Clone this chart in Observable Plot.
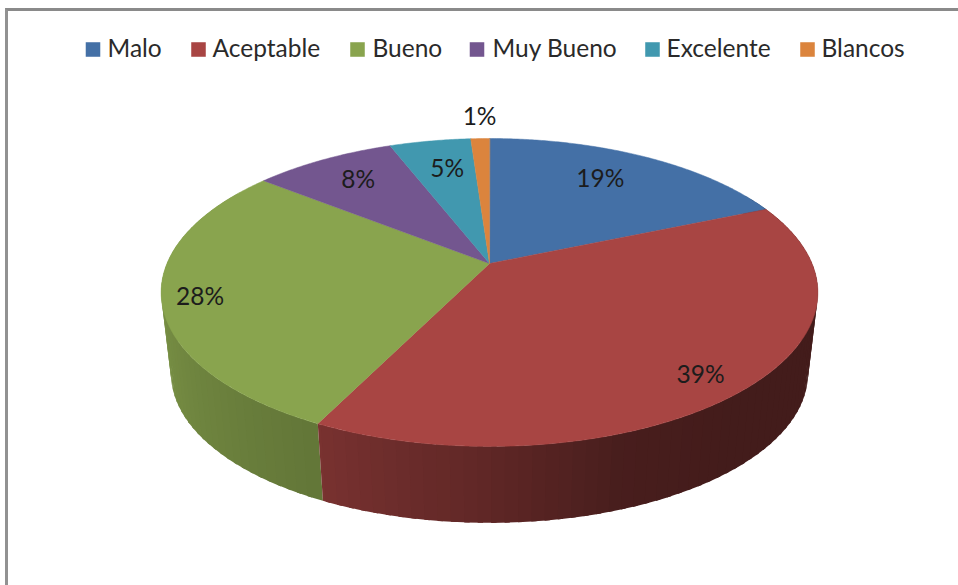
<!DOCTYPE html>
<html><head><meta charset="utf-8">
<script src="https://cdn.jsdelivr.net/npm/d3@7"></script>
<script src="https://cdn.jsdelivr.net/npm/@observablehq/plot@0.6"></script>
<style>
html,body{margin:0;padding:0;background:#fff;overflow:hidden}
#frame{position:absolute;left:5px;top:8px;width:953px;height:577px;box-sizing:border-box;border-left:3px solid #929292;border-top:3px solid #8a8a8a;pointer-events:none}
</style></head><body>
<div id="pie"></div><div id="frame"></div>
<script>
const categories = ["Malo","Aceptable","Bueno","Muy Bueno","Excelente","Blancos"];
const shares = [18.6,38.7,28.4,8.4,4.8,1.1];
const labels = ["19%","39%","28%","8%","5%","1%"];
const colors = ["#4470A6","#A84543","#89A44E","#73568F","#4198AF","#DB843D"];
// label placement: position along the slice and radial distance
const labelAlong = [.467,.517,.484,.51,.55,.55];
const labelRadius = [.741,.874,.888,.773,.733,1.215];
// legend layout
const legendSwatch = [92.5,198,357,476.5,652,807];
const legendText = [107,212,372,492,666,821];
const legendY = 49;

// perspective pie model
const cx=489, cy=263, A=322.5, B=148.5, k=.188, depthScale=.97, depthShift=82;
const rad=d=>d*Math.PI/180;
function upper(a,r=1){const w=1+k*r*Math.cos(rad(a));return {x:cx+A*r*Math.sin(rad(a))/w,y:cy-B*r*Math.cos(rad(a))/w};}
function lower(a){const p=upper(a);return {x:cx+(p.x-cx)*depthScale,y:cy+(p.y-cy)*depthScale+depthShift};}
const shade=d3.scaleLinear().domain([0,140,160,180,206,270,360]).range([.4,.4,.43,.57,.72,.92,.92]).clamp(true);
const total=d3.sum(shares);
let acc=0;
const slices=shares.map((v,i)=>{const a0=acc/total*360;acc+=v;return{i,a0,a1:acc/total*360};});

const topPts=[],sidePts=[];
for(const s of slices){
  topPts.push({id:s.i,color:colors[s.i],x:cx,y:cy});
  for(let a=s.a0;a<s.a1;a+=.5) topPts.push({id:s.i,color:colors[s.i],...upper(a)});
  topPts.push({id:s.i,color:colors[s.i],...upper(s.a1)});
  const step=2;
  // each strip runs on under the next one, so no seam shows between them
  for(let a=s.a0;a<s.a1;a+=step){
    const b=Math.min(a+step,s.a1), end=Math.min(b+.8,s.a1), mid=(a+b)/2;
    if(mid<60||mid>300) continue;
    const c0=d3.rgb(colors[s.i]); const f=shade(mid);
    const color=d3.rgb(c0.r*f,c0.g*f,c0.b*f).formatHex();
    const id=s.i+"-"+a;
    for(const p of [upper(a),upper(end),lower(end),lower(a)]) sidePts.push({id,color,...p});
  }
}
const labelRows=slices.map(s=>({label:labels[s.i],...upper(s.a0+(s.a1-s.a0)*labelAlong[s.i],labelRadius[s.i])}));
const legendRows=categories.map((name,i)=>({name,color:colors[i],sx:legendSwatch[i],tx:legendText[i],y:legendY}));
const font="Lato, 'Open Sans', sans-serif";
const figure=Plot.plot({
  width:958,height:585,margin:0,
  style:{background:"transparent"},
  x:{domain:[0,958],range:[0,958],axis:null},
  y:{domain:[0,585],range:[0,585],axis:null},
  color:{type:"identity"},
  marks:[
    Plot.line(sidePts.slice().reverse(),{x:"x",y:"y",z:"id",fill:"color",stroke:"none",curve:"linear-closed"}),
    Plot.line(topPts,{x:"x",y:"y",z:"id",fill:"color",stroke:"color",strokeWidth:.5,curve:"linear-closed"}),
    Plot.text(labelRows,{x:"x",y:"y",text:"label",fontSize:24.5,fontFamily:font,fill:"#1c1c1c",textAnchor:"middle"}),
    Plot.dot(legendRows,{x:"sx",y:"y",symbol:"square",r:8.2,fill:"color",stroke:"none"}),
    Plot.text(legendRows,{x:"tx",y:"y",text:"name",fontSize:24.5,fontFamily:font,fill:"#2a2a2a",textAnchor:"start"})
  ]
});
document.getElementById("pie").append(figure);
</script></body></html>
